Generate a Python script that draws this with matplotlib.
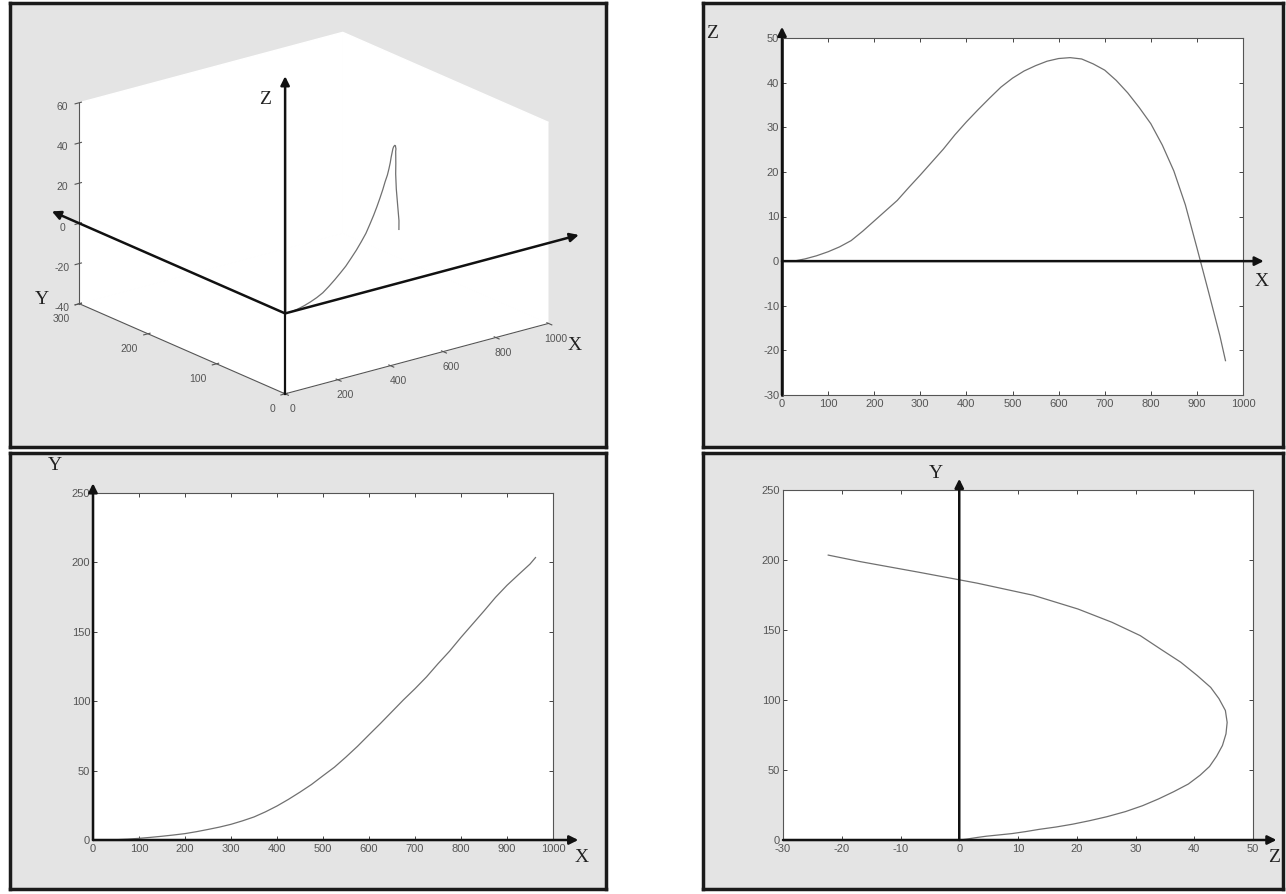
import numpy as np
import matplotlib.pyplot as plt
from mpl_toolkits.mplot3d import proj3d

W, H = 1286, 894

# trajectory (x, y, z at the same stations)
path_x = [25, 50, 75, 100, 125, 150, 175, 200, 225, 250, 275, 300, 325, 350,
          375, 400, 425, 450, 475, 500, 525, 550, 575, 600, 625, 650, 675,
          700, 725, 750, 775, 800, 825, 850, 875, 900, 925, 950, 962]
path_y = [0, 0.2, 0.6, 1.2, 1.9, 2.7, 3.6, 4.6, 6.0, 7.6, 9.3, 11.3, 13.8, 16.6,
          20.3, 24.5, 29.3, 34.5, 40.0, 46.3, 52.5, 59.8, 67.5, 75.8, 84, 92.5, 101,
          109, 117.5, 127, 136, 146, 155.5, 165, 174.8, 183.5, 191.2, 198.8, 203.5]
path_z = [0, 0.5, 1.2, 2.1, 3.2, 4.6, 6.7, 9.0, 11.3, 13.6, 16.5, 19.3, 22.2, 25.1,
          28.3, 31.2, 33.9, 36.5, 39.0, 41.0, 42.6, 43.8, 44.8, 45.4, 45.6, 45.3, 44.2,
          42.8, 40.5, 37.7, 34.4, 30.8, 26.0, 20.2, 12.6, 3.0, -6.8, -16.8, -22.3]

x_ticks = [0, 100, 200, 300, 400, 500, 600, 700, 800, 900, 1000]
z_ticks = [-30, -20, -10, 0, 10, 20, 30, 40, 50]
y_ticks = [0, 50, 100, 150, 200, 250]
zy_ticks = [-30, -20, -10, 0, 10, 20, 30, 40, 50]

FRAME_BG = '#e4e4e4'
TICK_COL = '#555555'
CURVE_COL = '#707070'
TICK_FONT = ['Liberation Sans', 'DejaVu Sans']
LETTER_FONT = ['Liberation Serif', 'DejaVu Serif']

plt.rcParams['font.family'] = TICK_FONT
plt.rcParams['axes.unicode_minus'] = False


def px_rect(x0, y0, x1, y1):
    return [x0 / W, 1 - y1 / H, (x1 - x0) / W, (y1 - y0) / H]


fig = plt.figure(figsize=(W / 100, H / 100), dpi=100, facecolor='white')

# grey scanned frames
for r in [(10, 3, 606, 447), (703, 3, 1283, 447),
          (10, 453, 606, 889), (703, 453, 1283, 889)]:
    fr = fig.add_axes(px_rect(*r))
    fr.set_facecolor(FRAME_BG)
    fr.set_xticks([])
    fr.set_yticks([])
    for s in fr.spines.values():
        s.set_linewidth(2.5)
        s.set_color('#1a1a1a')


def arrow(ax, start, end, lw=1.8):
    ax.annotate('', xy=end, xytext=start, xycoords='data',
                arrowprops=dict(arrowstyle='-|>', lw=lw, color='#111111',
                                mutation_scale=13, shrinkA=0, shrinkB=0),
                annotation_clip=False)


def style_2d(ax, xt, yt):
    ax.set_facecolor('white')
    ax.set_xticks(xt)
    ax.set_yticks(yt)
    ax.tick_params(direction='in', length=3, width=0.7, colors='#444444',
                   labelcolor=TICK_COL, labelsize=8, pad=2,
                   top=True, right=True)
    ax.tick_params(axis='x', pad=3)
    for s in ax.spines.values():
        s.set_linewidth(0.8)
        s.set_color('#555555')


def letter(x, y, s):
    # x, y in figure pixels from the top-left corner
    fig.text(x / W, 1 - y / H, s, fontsize=14, color='#222222',
             family=LETTER_FONT, ha='center', va='center')


# ---- X-Z projection (top right)
ax_xz = fig.add_axes(px_rect(782, 38, 1243, 395))
style_2d(ax_xz, x_ticks, z_ticks)
ax_xz.set_xlim(0, 1000)
ax_xz.set_ylim(-30, 50)
ax_xz.plot(path_x, path_z, color=CURVE_COL, lw=0.9)
ax_xz.spines['left'].set_linewidth(1.8)
ax_xz.spines['left'].set_color('#111111')
arrow(ax_xz, (0, 0), (1045, 0))
arrow(ax_xz, (0, -30), (0, 52.5))
letter(712, 33, 'Z')
letter(1262, 282, 'X')

# ---- X-Y projection (bottom left)
ax_xy = fig.add_axes(px_rect(93, 493, 553, 840))
style_2d(ax_xy, x_ticks, y_ticks)
ax_xy.set_xlim(0, 1000)
ax_xy.set_ylim(0, 250)
ax_xy.plot(path_x, path_y, color=CURVE_COL, lw=0.9)
arrow(ax_xy, (0, 0), (1055, 0))
arrow(ax_xy, (0, 0), (0, 257))
letter(55, 466, 'Y')
letter(582, 858, 'X')

# ---- Z-Y projection (bottom right)
ax_zy = fig.add_axes(px_rect(783, 490, 1253, 840))
style_2d(ax_zy, zy_ticks, y_ticks)
ax_zy.set_xlim(-30, 50)
ax_zy.set_ylim(0, 250)
ax_zy.plot(path_z, path_y, color=CURVE_COL, lw=0.9)
arrow(ax_zy, (-30, 0), (54, 0))
arrow(ax_zy, (0, 0), (0, 258))
letter(936, 474, 'Y')
letter(1274, 858, 'Z')

# ---- 3D view (top left)
ax3 = fig.add_axes(px_rect(14, 0, 602, 438), projection='3d', proj_type='ortho')
ax3.patch.set_visible(False)
ax3.view_init(elev=20, azim=-128)
ax3.set_xlim(0, 1000)
ax3.set_ylim(0, 300)
ax3.set_zlim(-40, 60)
ax3.set_box_aspect((1, 1, 0.64), zoom=1.15)
ax3.grid(False)
for a in (ax3.xaxis, ax3.yaxis, ax3.zaxis):
    a.set_pane_color((1, 1, 1, 1))
    a.pane.set_edgecolor('white')
    a.line.set_color('#555555')
    a.line.set_linewidth(0.8)
ax3.set_xticks([0, 200, 400, 600, 800, 1000])
ax3.set_yticks([0, 100, 200, 300])
ax3.set_zticks([-40, -20, 0, 20, 40, 60])
ax3.tick_params(labelsize=7.5, labelcolor=TICK_COL, colors='#555555', pad=-2)
for lbl in ax3.yaxis.get_ticklabels():
    lbl.set_ha('right')
ax3.plot(path_x, path_y, path_z, color=CURVE_COL, lw=0.9)
ax3.plot([0, 0], [0, 0], [-40, 0], color='#111111', lw=1.6)

fig.canvas.draw()
M = ax3.get_proj()


def to2d(x, y, z):
    px, py, _ = proj3d.proj_transform(x, y, z, M)
    return px, py


o = to2d(0, 0, 0)
arrow(ax3, o, to2d(0, 340, 0))
arrow(ax3, o, to2d(1115, 0, 0))
arrow(ax3, o, to2d(0, 0, 118))
letter(265, 100, 'Z')
letter(42, 300, 'Y')
letter(575, 345, 'X')

fig.savefig('out.png', dpi=100, facecolor='white')
